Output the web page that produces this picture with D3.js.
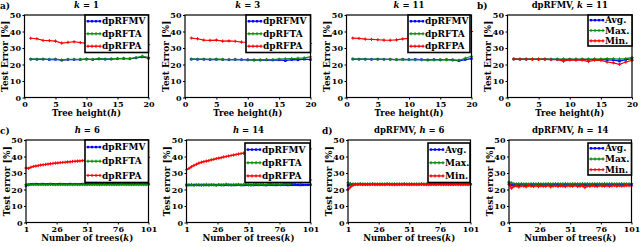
<!DOCTYPE html>
<html><head><meta charset="utf-8">
<script src="https://cdn.jsdelivr.net/npm/d3@7"></script>
<style>body{margin:0;background:#fff}svg{display:block}text{font-family:"DejaVu Serif",serif;font-weight:bold;fill:#000}</style>
</head><body>
<script>
// ---------- data ----------
const treeHeights = d3.range(1, 21);            // h = 1..20
const numTrees = d3.range(1, 102, 2);            // k = 1,3,...,101
const xTicksHeight = [0, 5, 10, 15, 20];
const xTicksTrees = [1, 26, 51, 76, 101];
const yTicks = [0, 10, 20, 30, 40, 50];

// a) k = 1
const a_MV = [23.2,23.1,23.2,23.0,23.1,22.6,23.0,23.0,23.0,23.2,23.0,23.4,23.2,23.3,23.5,23.6,23.5,24.0,24.6,23.8];
const a_TA = [23.3,23.2,23.3,23.1,23.2,22.8,23.1,23.1,23.1,23.3,23.1,23.5,23.3,23.4,23.6,23.7,23.6,24.2,25.0,24.3];
const a_PA = [35.9,35.6,34.6,34.5,34.2,33.0,33.4,33.8,33.3,33.0,33.0,32.8,33.0,32.6,32.7,32.5,32.4,32.5,32.2,32.0];
// k = 3
const b_MV = [23.2,23.1,23.1,23.0,23.1,23.0,22.9,23.0,22.9,22.8,22.8,22.7,22.8,22.7,22.8,22.3,22.9,22.8,23.2,23.0];
const b_TA = [23.3,23.2,23.2,23.1,23.2,23.1,23.0,23.1,23.0,22.9,22.5,22.9,23.0,23.0,23.2,23.4,23.6,23.8,24.0,24.6];
const b_PA = [36.0,35.6,34.8,34.6,34.8,34.2,34.3,34.1,33.6,33.5,33.4,33.2,33.3,33.0,33.1,32.9,33.0,32.8,32.9,32.7];
// k = 11
const c_MV = [23.3,23.2,23.2,23.1,23.2,23.1,23.1,23.0,23.1,23.0,23.1,23.0,22.8,23.0,22.9,23.0,22.8,22.2,23.0,23.6];
const c_TA = [23.3,23.2,23.2,23.1,23.2,23.1,23.1,23.0,23.1,23.0,22.9,22.9,22.7,22.8,22.8,22.9,22.7,22.6,23.8,25.0];
const c_PA = [36.0,35.8,35.4,35.2,35.0,34.8,34.7,34.9,35.5,35.8,36.0,36.3,36.6,37.0,37.4,37.8,38.3,38.8,39.4,40.0];
// b) dpRFMV, k = 11
const d_Avg = [23.3,23.2,23.2,23.2,23.2,23.2,23.1,23.1,23.0,23.1,23.0,23.1,22.9,23.0,23.0,22.8,22.7,22.0,23.0,23.5];
const d_Max = [23.4,23.3,23.3,23.3,23.3,23.3,23.2,23.2,23.3,23.2,23.3,23.3,23.3,23.4,23.3,23.5,23.4,23.3,23.6,24.2];
const d_Min = [23.2,23.1,23.1,23.1,23.1,23.1,23.0,23.0,22.0,22.8,22.6,22.7,21.8,22.6,22.5,21.5,21.0,20.1,21.5,22.5];

// c) h = 6
const e_MV = [22.3,23.0,23.2,23.2,23.3,23.2,23.2,23.3,23.2,23.2,23.3,23.2,23.2,23.2,23.3,23.2,23.2,23.2,23.3,23.2,23.2,23.2,23.2,23.3,23.2,23.2,23.2,23.2,23.3,23.2,23.2,23.2,23.2,23.2,23.3,23.2,23.2,23.2,23.2,23.2,23.3,23.2,23.2,23.2,23.2,23.2,23.2,23.3,23.2,23.2,23.2];
const e_TA = [23.0,22.8,23.0,23.1,23.0,23.0,23.1,23.0,23.0,23.0,23.1,23.0,23.0,23.0,23.0,23.1,23.0,23.0,23.0,23.0,23.1,23.0,23.0,23.0,23.0,23.0,23.1,23.0,23.0,23.0,23.0,23.0,23.1,23.0,23.0,23.0,23.0,23.0,23.0,23.1,23.0,23.0,23.0,23.0,23.0,23.1,23.0,23.0,23.0,23.0,23.0];
const e_PA = [33.0,32.8,33.5,34.0,34.2,34.5,34.8,35.0,35.2,35.4,35.6,35.8,36.0,36.1,36.3,36.4,36.5,36.7,36.8,37.0,37.1,37.2,37.3,37.5,37.6,37.7,37.8,37.9,38.0,38.1,38.2,38.2,38.3,38.4,38.5,38.5,38.6,38.7,38.8,38.8,38.9,39.0,39.0,39.1,39.2,39.2,39.3,39.4,39.4,39.5,39.5];
// h = 14
const f_MV = [22.6,22.8,22.7,22.8,22.8,22.7,22.8,22.8,22.7,22.8,22.8,22.8,22.7,22.8,22.8,22.7,22.8,22.8,22.8,22.7,22.8,22.8,22.8,22.7,22.8,22.8,22.8,22.7,22.8,22.8,22.8,22.8,22.7,22.8,22.8,22.8,22.7,22.8,22.8,22.8,22.8,22.7,22.8,22.8,22.8,22.8,22.7,22.8,22.8,22.8,22.9];
const f_TA = [23.2,22.6,23.0,22.4,22.8,23.0,22.5,22.7,23.1,22.6,22.9,22.8,22.5,23.0,22.7,22.9,23.2,22.8,22.6,23.0,22.9,23.1,22.7,23.0,23.2,22.8,22.6,23.0,23.3,22.9,23.1,23.0,22.8,23.2,23.4,23.0,23.2,23.1,22.9,23.3,23.5,23.2,23.6,23.8,24.2,24.5,24.0,24.8,25.2,24.6,25.8];
const f_PA = [32.0,32.8,33.8,34.6,35.3,36.0,36.5,36.9,37.2,37.5,38.0,38.3,38.7,39.0,39.3,39.7,40.0,40.3,40.6,40.9,41.2,41.5,41.8,42.0,42.2,42.3,42.5,42.6,42.8,42.9,43.0,43.2,43.3,43.4,43.5,43.6,43.7,43.8,43.9,44.0,44.0,44.1,44.2,44.2,44.3,44.4,44.4,44.5,44.5,44.6,44.6];
// d) dpRFMV, h = 6
const g_Avg = [22.5,23.0,23.2,23.2,23.2,23.3,23.2,23.2,23.2,23.2,23.3,23.2,23.2,23.2,23.2,23.2,23.3,23.2,23.2,23.2,23.2,23.2,23.2,23.3,23.2,23.2,23.2,23.2,23.2,23.2,23.3,23.2,23.2,23.2,23.2,23.2,23.2,23.3,23.2,23.2,23.2,23.2,23.2,23.2,23.3,23.2,23.2,23.2,23.2,23.2,23.2];
const g_Max = [24.0,23.6,23.4,23.4,23.4,23.5,23.4,23.4,23.4,23.4,23.5,23.4,23.4,23.4,23.4,23.4,23.5,23.4,23.4,23.4,23.4,23.4,23.4,23.5,23.4,23.4,23.4,23.4,23.4,23.4,23.5,23.4,23.4,23.4,23.4,23.4,23.4,23.5,23.4,23.4,23.4,23.4,23.4,23.4,23.5,23.4,23.4,23.4,23.4,23.4,23.4];
const g_Min = [20.0,21.5,22.5,23.0,23.0,23.1,23.0,23.0,23.0,23.0,23.1,23.0,23.0,23.0,23.0,23.0,23.1,23.0,23.0,23.0,23.0,23.0,23.0,23.1,23.0,23.0,23.0,23.0,23.0,23.0,23.1,23.0,23.0,23.0,23.0,23.0,23.0,23.1,23.0,23.0,23.0,23.0,23.0,23.0,23.1,23.0,23.0,23.0,23.0,23.0,23.0];
// dpRFMV, h = 14
const h_Avg = [24.0,22.6,22.8,22.9,22.8,22.9,22.9,22.8,22.9,22.9,22.8,22.9,22.9,22.9,22.8,22.9,22.9,22.8,22.9,22.9,22.9,22.8,22.9,22.9,22.9,22.8,22.9,22.9,22.9,22.8,22.9,22.9,22.8,22.9,22.9,22.9,22.8,22.9,22.9,22.9,22.8,22.9,22.9,22.9,22.8,22.9,22.9,22.9,22.8,22.9,22.9];
const h_Max = [24.5,24.0,23.6,23.4,23.5,23.6,23.4,23.5,23.3,23.6,23.5,23.4,23.6,23.5,23.4,23.5,23.6,23.4,23.5,23.5,23.6,23.4,23.5,23.6,23.5,23.4,23.5,23.6,23.4,23.5,23.5,23.6,23.5,23.4,23.5,23.6,23.5,23.5,23.4,23.6,23.5,23.5,23.6,23.4,23.5,23.5,23.6,23.5,23.4,23.5,23.6];
const h_Min = [23.0,20.8,21.8,22.2,21.5,22.3,22.0,21.6,22.4,22.0,21.8,22.3,21.7,22.2,22.0,21.9,22.4,21.6,22.1,22.3,21.8,22.2,22.0,21.7,22.3,22.1,21.9,22.4,21.8,22.0,22.3,21.2,22.2,21.9,22.3,22.0,21.8,22.4,22.1,22.0,22.3,21.9,22.2,22.4,22.0,22.3,22.1,22.2,22.4,22.3,22.2];

// ---------- layout ----------
const W = 640, H = 247;
const svg = d3.select("body").append("svg").attr("width", W).attr("height", H);
const BLUE = "#0000ff", GREEN = "#0a8a0a", RED = "#ff0000";

const panels = [
  {box:[24.5,148.5,15,97.5], xs:treeHeights, xd:[0,20], xt:xTicksHeight, title:[["k","i"],[" = 1",""]], ylab:"Test Error [%]", xlab:[["Tree height(",""],["h","i"],[")",""]],
   series:[{v:a_MV,c:BLUE,n:"dpRFMV"},{v:a_TA,c:GREEN,n:"dpRFTA"},{v:a_PA,c:RED,n:"dpRFPA"}], leg:[85,148.5,15,52.5], tag:"a)", tagx:0},
  {box:[185,310.5,15,97.5], xs:treeHeights, xd:[0,20], xt:xTicksHeight, title:[["k","i"],[" = 3",""]], ylab:"Test Error [%]", xlab:[["Tree height(",""],["h","i"],[")",""]],
   series:[{v:b_MV,c:BLUE,n:"dpRFMV"},{v:b_TA,c:GREEN,n:"dpRFTA"},{v:b_PA,c:RED,n:"dpRFPA"}], leg:[246,310.5,15,52.5]},
  {box:[346.5,471.5,15,97.5], xs:treeHeights, xd:[0,20], xt:xTicksHeight, title:[["k","i"],[" = 11",""]], ylab:"Test Error [%]", xlab:[["Tree height(",""],["h","i"],[")",""]],
   series:[{v:c_MV,c:BLUE,n:"dpRFMV"},{v:c_TA,c:GREEN,n:"dpRFTA"},{v:c_PA,c:RED,n:"dpRFPA"}], leg:[408,470,15,52.5]},
  {box:[507.5,632,15,97.5], xs:treeHeights, xd:[0,20], xt:xTicksHeight, title:[["dpRFMV, ",""],["k","i"],[" = 11",""]], ylab:"Test Error [%]", xlab:[["Tree height(",""],["h","i"],[")",""]],
   series:[{v:d_Avg,c:BLUE,n:"Avg."},{v:d_Max,c:GREEN,n:"Max."},{v:d_Min,c:RED,n:"Min."}], leg:[588,632,15,46], tag:"b)", tagx:477},
  {box:[26,148.5,140,222.5], xs:numTrees, xd:[1,101], xt:xTicksTrees, title:[["h","i"],[" = 6",""]], ylab:"Test error [%]", xlab:[["Number of trees(",""],["k","i"],[")",""]],
   series:[{v:e_MV,c:BLUE,n:"dpRFMV"},{v:e_TA,c:GREEN,n:"dpRFTA"},{v:e_PA,c:RED,n:"dpRFPA"}], leg:[85,148.5,140,182.5], tag:"c)", tagx:0},
  {box:[186.5,310.5,140,222.5], xs:numTrees, xd:[1,101], xt:xTicksTrees, title:[["h","i"],[" = 14",""]], ylab:"Test error [%]", xlab:[["Number of trees(",""],["k","i"],[")",""]],
   series:[{v:f_MV,c:BLUE,n:"dpRFMV"},{v:f_TA,c:GREEN,n:"dpRFTA"},{v:f_PA,c:RED,n:"dpRFPA"}], leg:[245,310,143,182.5]},
  {box:[348,470.5,140,222.5], xs:numTrees, xd:[1,101], xt:xTicksTrees, title:[["dpRFMV, ",""],["h","i"],[" = 6",""]], ylab:"Test error [%]", xlab:[["Number of trees(",""],["k","i"],[")",""]],
   series:[{v:g_Avg,c:BLUE,n:"Avg."},{v:g_Max,c:GREEN,n:"Max."},{v:g_Min,c:RED,n:"Min."}], leg:[428,470,143,182.5], tag:"d)", tagx:322},
  {box:[509,631.5,140,222.5], xs:numTrees, xd:[1,101], xt:xTicksTrees, title:[["dpRFMV, ",""],["h","i"],[" = 14",""]], ylab:"Test error [%]", xlab:[["Number of trees(",""],["k","i"],[")",""]],
   series:[{v:h_Avg,c:BLUE,n:"Avg."},{v:h_Max,c:GREEN,n:"Max."},{v:h_Min,c:RED,n:"Min."}], leg:[588,631.5,143,175]}
];

function richText(sel, parts) {
  parts.forEach(([t, s]) => {
    const ts = sel.append("tspan").text(t);
    if (s === "i") ts.attr("font-style", "italic");
  });
}

function marker(g, px, py, c, kind) {
  if (kind === 0) {
    g.append("rect").attr("x", px - 1.2).attr("y", py - 1.2).attr("width", 2.4).attr("height", 2.4).attr("fill", c);
  } else {
    g.append("path").attr("d", `M${px-1.6},${py}H${px+1.6}M${px},${py-1.6}V${py+1.6}`).attr("stroke", c).attr("stroke-width", 1);
  }
}

panels.forEach(p => {
  const [x0, x1, y0, y1] = p.box;
  const g = svg.append("g");
  const x = d3.scaleLinear().domain(p.xd).range([x0, x1]);
  const y = d3.scaleLinear().domain([0, 50]).range([y1, y0]);

  // axes
  const ax = g.append("g").attr("transform", `translate(0,${y1})`)
    .call(d3.axisBottom(x).tickValues(p.xt).tickSize(2).tickSizeOuter(0).tickPadding(1.5));
  const ay = g.append("g").attr("transform", `translate(${x0},0)`)
    .call(d3.axisLeft(y).tickValues(yTicks).tickSize(2).tickSizeOuter(0).tickPadding(1.5));
  [ax, ay].forEach(a => {
    a.select(".domain").remove();
    a.selectAll("line").attr("stroke", "#000").attr("stroke-width", 1);
    a.selectAll("text").attr("font-size", 8).attr("font-family", "DejaVu Serif").attr("font-weight", "bold");
  });

  // series
  const line = d3.line().x((d, i) => x(p.xs[i])).y(d => y(d));
  const mg = g.append("g");
  p.series.forEach((s, si) => {
    mg.append("path").datum(s.v).attr("d", line).attr("fill", "none").attr("stroke", s.c).attr("stroke-width", 1.2);
    s.v.forEach((d, i) => marker(mg, x(p.xs[i]), y(d), s.c, si === 0 ? 0 : 1));
  });

  // frame
  g.append("rect").attr("x", x0).attr("y", y0).attr("width", x1 - x0).attr("height", y1 - y0)
    .attr("fill", "none").attr("stroke", "#000").attr("stroke-width", 1.2);

  // legend
  const [lx0, lx1, ly0, ly1] = p.leg;
  const lg = g.append("g");
  lg.append("rect").attr("x", lx0).attr("y", ly0).attr("width", lx1 - lx0).attr("height", ly1 - ly0)
    .attr("fill", "#fff").attr("stroke", "#000").attr("stroke-width", 1.6);
  const step = (ly1 - ly0) / 3;
  p.series.forEach((s, si) => {
    const ly = ly0 + step * (si + 0.5);
    lg.append("line").attr("x1", lx0 + 1.5).attr("x2", lx0 + 16).attr("y1", ly).attr("y2", ly)
      .attr("stroke", s.c).attr("stroke-width", 1.2);
    [lx0 + 3, lx0 + 7, lx0 + 11, lx0 + 15].forEach(mx => marker(lg, mx, ly, s.c, si === 0 ? 0 : 1));
    lg.append("text").attr("x", lx0 + 17).attr("y", ly).attr("dy", "0.35em").attr("font-size", 9).text(s.n);
  });

  // title
  const tt = g.append("text").attr("x", (x0 + x1) / 2).attr("y", y0 - 7.5).attr("text-anchor", "middle").attr("font-size", 8.5);
  richText(tt, p.title);
  // x label
  const xl = g.append("text").attr("x", (x0 + x1) / 2).attr("y", y1 + 18.5).attr("text-anchor", "middle").attr("font-size", 8.5);
  richText(xl, p.xlab);
  // y label
  g.append("text").attr("transform", `translate(${x0 - 16.5},${(y0 + y1) / 2}) rotate(-90)`)
    .attr("text-anchor", "middle").attr("font-size", 9).text(p.ylab);
  // panel tag
  if (p.tag) {
    g.append("text").attr("x", p.tagx).attr("y", y0 - 6.5).attr("font-size", 9).text(p.tag);
  }
});
</script>
</body></html>
